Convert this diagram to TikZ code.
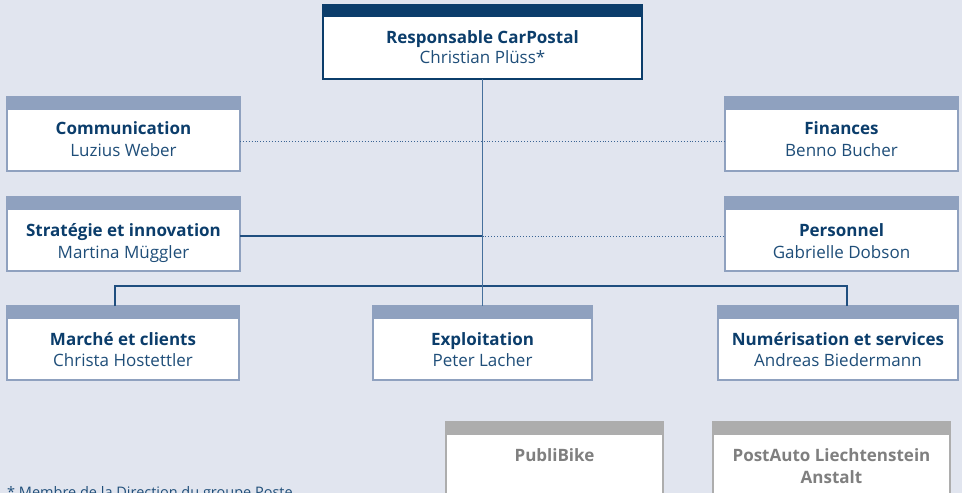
\documentclass[tikz,border=0pt]{standalone}
\usepackage{fontspec}
\setmainfont{Open Sans}
\definecolor{bg}{HTML}{E1E5EF}
\definecolor{navy}{HTML}{0B3D6B}
\definecolor{namec}{HTML}{1F4E79}
\definecolor{hdr}{HTML}{8FA1BF}
\definecolor{grayhdr}{HTML}{ADADAD}
\definecolor{graytxt}{HTML}{7F7F7F}
\definecolor{linec}{HTML}{1F4E7F}
\definecolor{vlinec}{HTML}{46709C}
\definecolor{dotc}{HTML}{3A6494}
\begin{document}
\begin{tikzpicture}[x=1pt,y=-1pt,
  box/.style={draw=hdr,line width=1.5pt,fill=white,rectangle,inner sep=0pt,outer sep=0pt},
  topbox/.style={box,draw=navy,line width=2pt},
  graybox/.style={box,draw=grayhdr},
  ttl/.style={anchor=base,inner sep=0pt,font=\fontsize{17}{20}\selectfont\bfseries,text=navy},
  nam/.style={anchor=base,inner sep=0pt,font=\fontsize{17}{20}\selectfont,text=namec},
  gttl/.style={anchor=base,inner sep=0pt,font=\fontsize{17}{20}\selectfont\bfseries,text=graytxt},
  conn/.style={draw=linec,line width=1.2pt},
  vconn/.style={draw=vlinec,line width=1.4pt},
  dotconn/.style={draw=dotc,line width=0.9pt,dotted}
]
\fill[bg] (0,0) rectangle (962,493);
\useasboundingbox (0,0) rectangle (962,493);

% boxes
\node[topbox,minimum width=319,minimum height=74] (top) at (482.5,42) {};
\node[box,minimum width=233,minimum height=74] (comm) at (123.5,134) {};
\node[box,minimum width=233,minimum height=74] (fin) at (841.5,134) {};
\node[box,minimum width=233,minimum height=74] (strat) at (123.5,234) {};
\node[box,minimum width=233,minimum height=74] (pers) at (841.5,234) {};
\node[box,minimum width=232,minimum height=74] (marche) at (123,343) {};
\node[box,minimum width=219,minimum height=74] (expl) at (482.5,343) {};
\node[box,minimum width=240,minimum height=74] (numer) at (838,343) {};
\node[graybox,minimum width=217,minimum height=100] (publi) at (554.5,472) {};
\node[graybox,minimum width=237,minimum height=100] (pal) at (831.5,472) {};

% header bands
\fill[navy] ([xshift=-1pt,yshift=1pt]top.north west) rectangle ([xshift=1pt,yshift=-12pt]top.north east);
\foreach \b in {comm,fin,strat,pers,marche,expl,numer}{
  \fill[hdr] ([xshift=-0.75pt,yshift=0.75pt]\b.north west) rectangle ([xshift=0.75pt,yshift=-13pt]\b.north east);
}
\foreach \b in {publi,pal}{
  \fill[grayhdr] ([xshift=-0.75pt,yshift=0.75pt]\b.north west) rectangle ([xshift=0.75pt,yshift=-13pt]\b.north east);
}

% connectors
\coordinate (bus) at (482.5,286);
\draw[conn] ([xshift=-8pt]marche.north) |- (bus) -| ([xshift=9pt]numer.north);
\draw[conn] ([yshift=-2pt]strat.east) -- ([yshift=-2pt]strat.east -| top.south);
\draw[dotconn] ([yshift=-2pt]strat.east -| top.south) -- ([yshift=-2pt]pers.west);
\draw[dotconn] ([yshift=-7pt]comm.east) -- ([yshift=-7pt]fin.west);
\draw[vconn] (top.south) -- (expl.north);

% texts
\node[ttl] (topT) at (482.5,43) {Responsable CarPostal};
\node[nam] (topN) at (482.5,63.5) {Christian Plüss*};
\node[ttl] (commT) at (123.5,134) {Communication};
\node[nam] (commN) at (123.5,156) {Luzius Weber};
\node[ttl] (finT) at (841.5,134) {Finances};
\node[nam] (finN) at (841.5,156) {Benno Bucher};
\node[ttl] (stratT) at (123.5,236) {Stratégie et innovation};
\node[nam] (stratN) at (123.5,258) {Martina Müggler};
\node[ttl] (persT) at (841.5,236) {Personnel};
\node[nam] (persN) at (841.5,258) {Gabrielle Dobson};
\node[ttl] (marcheT) at (123,345) {Marché et clients};
\node[nam] (marcheN) at (123,366) {Christa Hostettler};
\node[ttl] (explT) at (482.5,345) {Exploitation};
\node[nam] (explN) at (482.5,366) {Peter Lacher};
\node[ttl] (numerT) at (838,345) {Numérisation et services};
\node[nam] (numerN) at (838,366) {Andreas Biedermann};
\node[gttl] (publiT) at (554.5,461) {PubliBike};
\node[gttl] (palT1) at (831.5,461) {PostAuto Liechtenstein};
\node[gttl] (palT2) at (831.5,483) {Anstalt};
\node[anchor=base west,inner sep=0pt,font=\fontsize{14.5}{17}\selectfont,text=namec] (foot) at (7,497) {* Membre de la Direction du groupe Poste};
\end{tikzpicture}
\end{document}
